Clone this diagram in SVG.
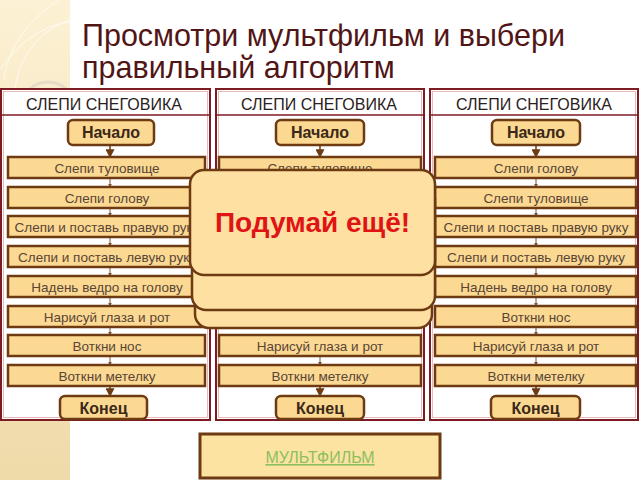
<svg xmlns="http://www.w3.org/2000/svg" width="640" height="480" viewBox="0 0 640 480">
<defs>
<linearGradient id="strip" x1="0" y1="0" x2="0" y2="1">
<stop offset="0" stop-color="#fcf1d4"/>
<stop offset="1" stop-color="#efdaa9"/>
</linearGradient>
<marker id="sm" viewBox="0 0 6 6" refX="5" refY="3" markerWidth="4" markerHeight="4" orient="auto">
<path d="M0,0 L6,3 L0,6 z" fill="#7a5535"/>
</marker>
<marker id="bg" viewBox="0 0 8 8" refX="7" refY="4" markerWidth="6" markerHeight="6" orient="auto">
<path d="M0,0 L8,4 L0,8 z" fill="#6d3a12"/>
</marker>
</defs>
<style>
.panel{fill:#ffffff;stroke:#7d1a22;stroke-width:2}
.pin{fill:none;stroke:#e3a9a9;stroke-width:0.8}
.hl{stroke:#7d1a22;stroke-width:1.6}
.hd{font-family:"Liberation Sans",Arial,sans-serif;font-size:16px;fill:#2a2020;text-anchor:middle}
.step{fill:#fbd993;stroke:#6d3a12;stroke-width:2.5}
.term{fill:#fbd993;stroke:#6d3a12;stroke-width:2.5}
.st{font-family:"Liberation Sans",Arial,sans-serif;font-size:13.5px;fill:#5a4535;text-anchor:middle}
.tt{font-family:"Liberation Sans",Arial,sans-serif;font-size:16px;font-weight:bold;fill:#3a2818;text-anchor:middle}
.ar{stroke:#7a5535;stroke-width:1;marker-end:url(#sm)}
.arb{stroke:#6d3a12;stroke-width:1.5;marker-end:url(#bg)}
.ov{fill:#fde0a2;stroke:#6d3a12;stroke-width:2.5}
.title{font-family:"Liberation Sans",Arial,sans-serif;font-size:30.5px;fill:#521515}
</style>
<rect x="0" y="0" width="640" height="480" fill="#ffffff"/>
<rect x="0" y="0" width="70" height="480" fill="url(#strip)"/>
<g fill="none" stroke="#ffffff" stroke-opacity="0.7" stroke-width="1">
<path d="M58,0 C30,20 8,45 4,80"/>
<path d="M70,20 C40,30 20,55 15,88"/>
<path d="M0,70 C20,40 45,25 70,22"/>
</g>
<circle cx="48" cy="110" r="28" fill="none" stroke="#e6dcc8" stroke-width="3"/>
<text class="title" x="82" y="46">Просмотри мультфильм и выбери</text>
<text class="title" x="82" y="78">правильный алгоритм</text>

<g id="panel1">
<rect class="panel" x="1" y="89" width="209" height="331"/>
<rect class="pin" x="3.5" y="91.5" width="204" height="326"/>
<line class="hl" x1="2" y1="115" x2="209" y2="115"/>
<text class="hd" x="104" y="110">СЛЕПИ СНЕГОВИКА</text>
</g>
<g id="panel2">
<rect class="panel" x="216" y="89" width="208" height="331"/>
<rect class="pin" x="218.5" y="91.5" width="203" height="326"/>
<line class="hl" x1="217" y1="115" x2="423" y2="115"/>
<text class="hd" x="319" y="110">СЛЕПИ СНЕГОВИКА</text>
</g>
<g id="panel3">
<rect class="panel" x="430" y="89" width="208" height="331"/>
<rect class="pin" x="432.5" y="91.5" width="203" height="326"/>
<line class="hl" x1="431" y1="115" x2="637" y2="115"/>
<text class="hd" x="534" y="110">СЛЕПИ СНЕГОВИКА</text>
</g>

<g id="connectors">
<line class="arb" x1="110" y1="146" x2="110" y2="157"/>
<line class="ar" x1="110" y1="178" x2="110" y2="187"/>
<line class="ar" x1="110" y1="208" x2="110" y2="216"/>
<line class="ar" x1="110" y1="237" x2="110" y2="246"/>
<line class="ar" x1="110" y1="267" x2="110" y2="276"/>
<line class="ar" x1="110" y1="297" x2="110" y2="306"/>
<line class="ar" x1="110" y1="327" x2="110" y2="335"/>
<line class="ar" x1="110" y1="356" x2="110" y2="365"/>
<line class="arb" x1="110" y1="386" x2="110" y2="396"/>
<line class="arb" x1="320" y1="146" x2="320" y2="157"/>
<line class="ar" x1="320" y1="356" x2="320" y2="365"/>
<line class="arb" x1="320" y1="386" x2="320" y2="396"/>
<line class="arb" x1="536" y1="146" x2="536" y2="157"/>
<line class="ar" x1="536" y1="178" x2="536" y2="187"/>
<line class="ar" x1="536" y1="208" x2="536" y2="216"/>
<line class="ar" x1="536" y1="237" x2="536" y2="246"/>
<line class="ar" x1="536" y1="267" x2="536" y2="276"/>
<line class="ar" x1="536" y1="297" x2="536" y2="306"/>
<line class="ar" x1="536" y1="327" x2="536" y2="335"/>
<line class="ar" x1="536" y1="356" x2="536" y2="365"/>
<line class="arb" x1="536" y1="386" x2="536" y2="396"/>
</g>

<g id="p1-start"><rect class="term" x="68" y="120" width="86" height="25" rx="5"/><text class="tt" x="111" y="138">Начало</text></g>
<g id="p1-s1"><rect class="step" x="8" y="157" width="197" height="21"/><text class="st" x="107" y="172.5">Слепи туловище</text></g>
<g id="p1-s2"><rect class="step" x="8" y="187" width="197" height="21"/><text class="st" x="107" y="202.5">Слепи голову</text></g>
<g id="p1-s3"><rect class="step" x="8" y="216" width="197" height="21"/><text class="st" x="107" y="231.5">Слепи и поставь правую руку</text></g>
<g id="p1-s4"><rect class="step" x="8" y="246" width="197" height="21"/><text class="st" x="107" y="261.5">Слепи и поставь левую руку</text></g>
<g id="p1-s5"><rect class="step" x="8" y="276" width="197" height="21"/><text class="st" x="107" y="291.5">Надень ведро на голову</text></g>
<g id="p1-s6"><rect class="step" x="8" y="306" width="197" height="21"/><text class="st" x="107" y="321.5">Нарисуй глаза и рот</text></g>
<g id="p1-s7"><rect class="step" x="8" y="335" width="197" height="21"/><text class="st" x="107" y="350.5">Воткни нос</text></g>
<g id="p1-s8"><rect class="step" x="8" y="365" width="197" height="21"/><text class="st" x="107" y="380.5">Воткни метелку</text></g>
<g id="p1-end"><rect class="term" x="60" y="396" width="87" height="23" rx="5"/><text class="tt" x="103.5" y="413.5">Конец</text></g>

<g id="p2-start"><rect class="term" x="276" y="120" width="88" height="25" rx="5"/><text class="tt" x="320" y="138">Начало</text></g>
<g id="p2-s1"><rect class="step" x="219" y="157" width="202" height="21"/><text class="st" x="320" y="172.5">Слепи туловище</text></g>
<g id="p2-s7"><rect class="step" x="219" y="335" width="202" height="21"/><text class="st" x="320" y="350.5">Нарисуй глаза и рот</text></g>
<g id="p2-s8"><rect class="step" x="219" y="365" width="202" height="21"/><text class="st" x="320" y="380.5">Воткни метелку</text></g>
<g id="p2-end"><rect class="term" x="276" y="396" width="88" height="23" rx="5"/><text class="tt" x="320" y="413.5">Конец</text></g>

<g id="p3-start"><rect class="term" x="492" y="120" width="88" height="25" rx="5"/><text class="tt" x="536" y="138">Начало</text></g>
<g id="p3-s1"><rect class="step" x="435" y="157" width="201" height="21"/><text class="st" x="536" y="172.5">Слепи голову</text></g>
<g id="p3-s2"><rect class="step" x="435" y="187" width="201" height="21"/><text class="st" x="536" y="202.5">Слепи туловище</text></g>
<g id="p3-s3"><rect class="step" x="435" y="216" width="201" height="21"/><text class="st" x="536" y="231.5">Слепи и поставь правую руку</text></g>
<g id="p3-s4"><rect class="step" x="435" y="246" width="201" height="21"/><text class="st" x="536" y="261.5">Слепи и поставь левую руку</text></g>
<g id="p3-s5"><rect class="step" x="435" y="276" width="201" height="21"/><text class="st" x="536" y="291.5">Надень ведро на голову</text></g>
<g id="p3-s6"><rect class="step" x="435" y="306" width="201" height="21"/><text class="st" x="536" y="321.5">Воткни нос</text></g>
<g id="p3-s7"><rect class="step" x="435" y="335" width="201" height="21"/><text class="st" x="536" y="350.5">Нарисуй глаза и рот</text></g>
<g id="p3-s8"><rect class="step" x="435" y="365" width="201" height="21"/><text class="st" x="536" y="380.5">Воткни метелку</text></g>
<g id="p3-end"><rect class="term" x="491" y="396" width="89" height="23" rx="5"/><text class="tt" x="535.5" y="413.5">Конец</text></g>

<g id="overlay">
<rect class="ov" x="195" y="200" width="237" height="128" rx="14"/>
<rect class="ov" x="192" y="185" width="243" height="125" rx="14"/>
<rect class="ov" x="190" y="170" width="245" height="105" rx="14"/>
<text x="312.5" y="232" font-family="Liberation Sans, Arial, sans-serif" font-size="28" font-weight="bold" fill="#e01414" text-anchor="middle">Подумай ещё!</text>
</g>

<g id="cartoon">
<rect x="200" y="434" width="240" height="44" fill="#fde3a2" stroke="#6d3a12" stroke-width="3"/>
<text x="320" y="463" font-family="Liberation Sans, Arial, sans-serif" font-size="16" fill="#8cbf5e" text-anchor="middle" text-decoration="underline">МУЛЬТФИЛЬМ</text>
</g>
</svg>
